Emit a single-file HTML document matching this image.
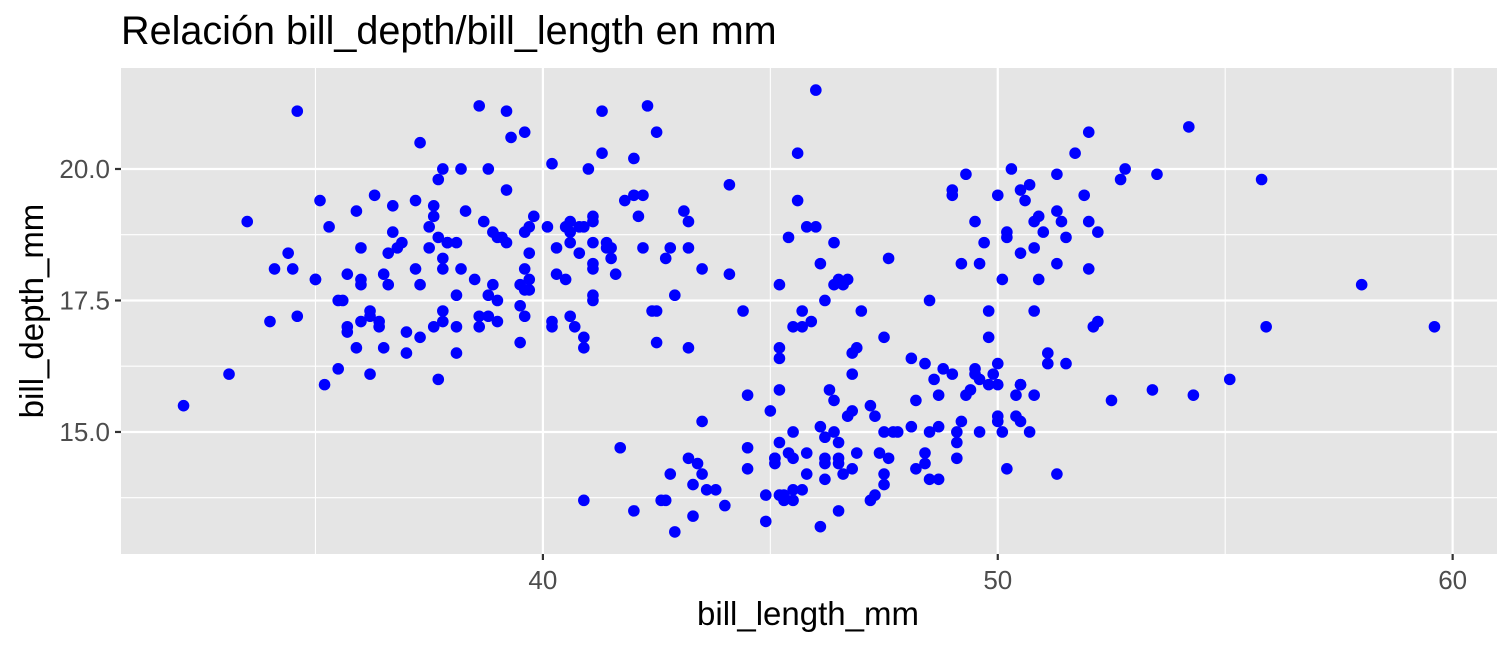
<!DOCTYPE html>
<html><head><meta charset="utf-8"><style>
body{margin:0;background:#fff;}
svg{display:block;font-family:"Liberation Sans",sans-serif;}
</style></head><body>
<svg id="chart" width="1512" height="648" viewBox="0 0 1512 648" xmlns="http://www.w3.org/2000/svg">
<text x="121" y="44" font-size="39.6" fill="#000">Relación bill_depth/bill_length en mm</text>
<rect x="121" y="68" width="1376" height="486" fill="#e5e5e5"/>
<g id="grid"></g><g id="ticks"></g><g id="points"></g>
<text x="808" y="625" font-size="33" text-anchor="middle" fill="#000">bill_length_mm</text>
<text transform="translate(43,311) rotate(-90)" font-size="33" text-anchor="middle" fill="#000">bill_depth_mm</text>
</svg>
<script>
const xTicks=[40,50,60];
const xMinor=[35,45,55];
const yTicks=[15,17.5,20];
const yTickLabels=["15.0","17.5","20.0"];
const yMinor=[13.75,16.25,18.75];
const penguins=[[39.1,18.7],[39.5,17.4],[40.3,18],[36.7,19.3],[39.3,20.6],[38.9,17.8],[39.2,19.6],[34.1,18.1],[42,20.2],[37.8,17.1],[37.8,17.3],[41.1,17.6],[38.6,21.2],[34.6,21.1],[36.6,17.8],[38.7,19],[42.5,20.7],[34.4,18.4],[46,21.5],[37.8,18.3],[37.7,18.7],[35.9,19.2],[38.2,18.1],[38.8,17.2],[35.3,18.9],[40.6,18.6],[40.5,17.9],[37.9,18.6],[40.5,18.9],[39.5,16.7],[37.2,18.1],[39.5,17.8],[40.9,18.9],[36.4,17],[39.2,21.1],[38.8,20],[42.2,18.5],[37.6,19.3],[39.8,19.1],[36.5,18],[40.8,18.4],[36,18.5],[44.1,19.7],[37,16.9],[39.6,18.8],[41.1,19],[37.5,18.9],[36,17.9],[42.3,21.2],[39.6,17.7],[40.1,18.9],[35,17.9],[42,19.5],[34.5,18.1],[41.4,18.6],[39,17.5],[40.6,18.8],[36.5,16.6],[37.6,19.1],[35.7,16.9],[41.3,21.1],[37.6,17],[41.1,18.2],[36.4,17.1],[41.6,18],[35.5,16.2],[41.1,19.1],[35.9,16.6],[41.8,19.4],[33.5,19],[39.7,18.4],[39.6,17.2],[45.8,18.9],[35.5,17.5],[42.8,18.5],[40.9,16.8],[37.2,19.4],[36.2,16.1],[42.1,19.1],[34.6,17.2],[42.9,17.6],[36.7,18.8],[35.1,19.4],[37.3,17.8],[41.3,20.3],[36.3,19.5],[36.9,18.6],[38.3,19.2],[38.9,18.8],[35.7,18],[41.1,18.1],[34,17.1],[39.6,18.1],[36.2,17.3],[40.8,18.9],[38.1,18.6],[40.3,18.5],[33.1,16.1],[43.2,18.5],[35,17.9],[41,20],[37.7,16],[37.8,20],[37.9,18.6],[39.7,18.9],[38.6,17.2],[38.2,20],[38.1,17],[43.2,19],[38.1,16.5],[45.6,20.3],[39.7,17.7],[42.2,19.5],[39.6,20.7],[42.7,18.3],[38.6,17],[37.3,20.5],[35.7,17],[41.1,18.6],[36.2,17.2],[37.7,19.8],[40.2,17],[41.4,18.5],[35.2,15.9],[40.6,19],[38.8,17.6],[41.5,18.3],[39,17.1],[44.1,18],[38.5,17.9],[43.1,19.2],[36.8,18.5],[37.5,18.5],[38.1,17.6],[41.1,17.5],[35.6,17.5],[40.2,20.1],[37,16.5],[39.7,17.9],[40.2,17.1],[40.6,17.2],[32.1,15.5],[40.7,17],[37.3,16.8],[39,18.7],[39.2,18.6],[36.6,18.4],[36,17.8],[37.8,18.1],[36,17.1],[41.5,18.5],
[46.1,13.2],[50,16.3],[48.7,14.1],[50,15.2],[47.6,14.5],[46.5,13.5],[45.4,14.6],[46.7,15.3],[43.3,13.4],[46.8,15.4],[40.9,13.7],[49,16.1],[45.5,13.7],[48.4,14.6],[45.8,14.6],[49.3,15.7],[42,13.5],[49.2,15.2],[46.2,14.5],[48.7,15.1],[50.2,14.3],[45.1,14.5],[46.5,14.5],[46.3,15.8],[42.9,13.1],[46.1,15.1],[44.5,14.3],[47.8,15],[48.2,14.3],[50,15.3],[47.3,15.3],[42.8,14.2],[45.1,14.5],[59.6,17],[49.1,14.8],[48.4,16.3],[42.6,13.7],[44.4,17.3],[44,13.6],[48.7,15.7],[42.7,13.7],[49.6,16],[45.3,13.7],[49.6,15],[50.5,15.9],[43.6,13.9],[45.5,13.9],[50.5,15.9],[44.9,13.3],[45.2,15.8],[46.6,14.2],[48.5,14.1],[45.1,14.4],[50.1,15],[46.5,14.4],[45,15.4],[43.8,13.9],[45.5,15],[43.2,14.5],[50.4,15.3],[45.3,13.8],[46.2,14.9],[45.7,13.9],[54.3,15.7],[45.8,14.2],[49.8,16.8],[46.2,14.4],[49.5,16.2],[43.5,14.2],[50.7,15],[47.7,15],[46.4,15.6],[48.2,15.6],[46.5,14.8],[46.4,15],[48.6,16],[47.5,14.2],[51.1,16.3],[45.2,13.8],[45.2,16.4],[49.1,14.5],[52.5,15.6],[47.4,14.6],[50,15.9],[44.9,13.8],[50.8,17.3],[43.4,14.4],[51.3,14.2],[47.5,14],[52.1,17],[47.5,15],[52.2,17.1],[45.5,14.5],[49.5,16.1],[44.5,14.7],[50.8,15.7],[49.4,15.8],[46.9,14.6],[48.4,14.4],[51.1,16.5],[48.5,15],[55.9,17],[47.2,15.5],[49.1,15],[47.3,13.8],[46.8,16.1],[41.7,14.7],[53.4,15.8],[43.3,14],[48.1,15.1],[50.5,15.2],[49.8,15.9],[43.5,15.2],[51.5,16.3],[46.2,14.1],[55.1,16],[44.5,15.7],[48.8,16.2],[47.2,13.7],[46.8,14.3],[50.4,15.7],[45.2,14.8],[49.9,16.1],
[46.5,17.9],[50,19.5],[51.3,19.2],[45.4,18.7],[52.7,19.8],[45.2,17.8],[46.1,18.2],[51.3,18.2],[46,18.9],[51.3,19.9],[46.6,17.8],[51.7,20.3],[47,17.3],[52,18.1],[45.9,17.1],[50.5,19.6],[50.3,20],[58,17.8],[46.4,18.6],[49.2,18.2],[42.4,17.3],[48.5,17.5],[43.2,16.6],[50.6,19.4],[46.7,17.9],[52,19],[50.5,18.4],[49.5,19],[46.4,17.8],[52.8,20],[40.9,16.6],[54.2,20.8],[42.5,16.7],[51,18.8],[49.7,18.6],[47.5,16.8],[47.6,18.3],[52,20.7],[46.9,16.6],[53.5,19.9],[49,19.5],[46.2,17.5],[50.9,19.1],[45.5,17],[50.9,17.9],[50.8,18.5],[50.1,17.9],[49,19.6],[51.5,18.7],[49.8,17.3],[48.1,16.4],[51.4,19],[45.7,17.3],[50.7,19.7],[42.5,17.3],[52.2,18.8],[45.2,16.6],[49.3,19.9],[50.2,18.8],[45.6,19.4],[51.9,19.5],[46.8,16.5],[45.7,17],[55.8,19.8],[43.5,18.1],[49.6,18.2],[50.8,19],[50.2,18.7]];

const NS="http://www.w3.org/2000/svg";
const L=121,R=1497,T=68,B=554;
const xMin=30.725,xMax=60.975,yMin=12.68,yMax=21.92;
const sx=v=>L+(v-xMin)/(xMax-xMin)*(R-L);
const sy=v=>B-(v-yMin)/(yMax-yMin)*(B-T);
function mk(tag,attrs,parent){const e=document.createElementNS(NS,tag);for(const k in attrs)e.setAttribute(k,attrs[k]);document.getElementById(parent).appendChild(e);return e;}
xMinor.forEach(v=>{const e=mk('line',{x1:sx(v),x2:sx(v),y1:T,y2:B,stroke:'#fff','stroke-width':1.1},'grid');

});
yMinor.forEach(v=>{const e=mk('line',{x1:L,x2:R,y1:sy(v),y2:sy(v),stroke:'#fff','stroke-width':1.1},'grid');

});
xTicks.forEach(v=>{const e=mk('line',{x1:sx(v),x2:sx(v),y1:T,y2:B,stroke:'#fff','stroke-width':2.2},'grid');


const t=mk('line',{x1:sx(v),x2:sx(v),y1:B,y2:B+6,stroke:'#333','stroke-width':2.2},'ticks');


const l=mk('text',{x:sx(v),y:589,'font-size':26,'text-anchor':'middle',fill:'#4d4d4d'},'ticks');l.textContent=v;

});
yTicks.forEach((v,i)=>{const e=mk('line',{x1:L,x2:R,y1:sy(v),y2:sy(v),stroke:'#fff','stroke-width':2.2},'grid');


const t=mk('line',{x1:L-6,x2:L,y1:sy(v),y2:sy(v),stroke:'#333','stroke-width':2.2},'ticks');


const l=mk('text',{x:L-11,y:sy(v)+9,'font-size':26,'text-anchor':'end',fill:'#4d4d4d'},'ticks');l.textContent=yTickLabels[i];

});
penguins.forEach(p=>{const c=mk('circle',{cx:sx(p[0]),cy:sy(p[1]),r:5.8,fill:'#0000ff'},'points');

});
</script>
</body></html>
